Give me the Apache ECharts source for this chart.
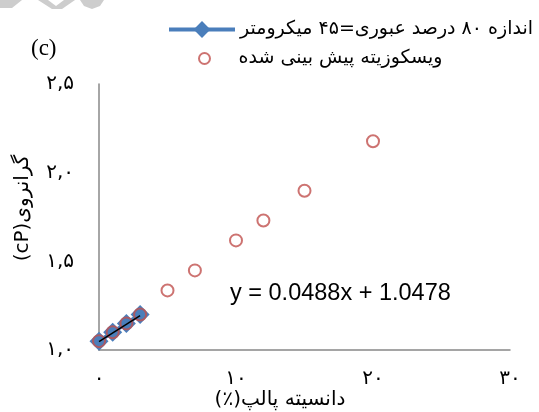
<!DOCTYPE html>
<html>
<head>
<meta charset="utf-8">
<script src="https://cdn.jsdelivr.net/npm/echarts@6/dist/echarts.min.js"></script>
<style>
html,body{margin:0;padding:0;background:#fff;}
#chart{width:539px;height:412px;}
</style>
</head>
<body>
<div id="chart"></div>
<script>
// ---- data ----
const seriesNames = ['اندازه ۸۰ درصد عبوری=۴۵ میکرومتر', 'ویسکوزیته پیش بینی شده'];
const measuredX = [0, 1, 2, 3];
const measuredY = [1.05, 1.10, 1.15, 1.20];
const predictedX = [0, 1, 2, 3, 5, 7, 10, 12, 15, 20];
const predictedY = [1.05, 1.10, 1.15, 1.20, 1.336, 1.449, 1.618, 1.730, 1.898, 2.177];
const trendSlope = 0.0488;
const trendIntercept = 1.0478;
const trendRange = [0, 3];
const xTicks = [0, 10, 20, 30];
const xTickLabels = ['۰', '۱۰', '۲۰', '۳۰'];
const yTicks = [1.0, 1.5, 2.0, 2.5];
const yTickLabels = ['۱,۰', '۱,۵', '۲,۰', '۲,۵'];
const xAxisName = '(٪)دانسیته پالپ';
const yAxisName = '(cP)گرانروی';
const panelLabel = '(c)';
const trendLabel = 'y = ' + trendSlope + 'x + ' + trendIntercept;

const faFont = "'DejaVu Sans', sans-serif";
const chart = echarts.init(document.getElementById('chart'), null, {renderer: 'canvas'});

const measured = measuredX.map((x, i) => [x, measuredY[i]]);
const predicted = predictedX.map((x, i) => [x, predictedY[i]]);
const trend = trendRange.map(x => [x, trendSlope * x + trendIntercept]);

function lookup(ticks, labels, v) {
  const i = ticks.findIndex(t => Math.abs(t - v) < 1e-9);
  return i >= 0 ? labels[i] : '';
}

const legendText = {fontFamily: faFont, fontSize: 19, color: '#000'};

chart.setOption({
  animation: false,
  backgroundColor: '#fff',
  grid: {left: 99, right: 29, top: 84, bottom: 62, containLabel: false, outerBoundsMode: 'none'},
  legend: [
    {
      orient: 'vertical',
      left: 167,
      top: 20,
      padding: 0,
      itemWidth: 66,
      itemHeight: 21,
      data: [seriesNames[0]],
      lineStyle: {width: 4},
      textStyle: legendText
    },
    {
      orient: 'vertical',
      left: 198,
      top: 49,
      padding: 0,
      itemWidth: 58,
      itemHeight: 11,
      data: [seriesNames[1]],
      itemStyle: {color: '#fff', borderColor: '#c0504d', borderWidth: 2},
      textStyle: legendText
    }
  ],
  xAxis: {
    type: 'value',
    min: 0, max: 30, interval: 10,
    axisLine: {show: true, onZero: false, lineStyle: {color: '#888', width: 1.5}},
    axisTick: {show: false},
    splitLine: {show: false},
    axisLabel: {margin: 19, fontFamily: faFont, fontSize: 20, color: '#000',
      formatter: v => lookup(xTicks, xTickLabels, v)}
  },
  yAxis: {
    type: 'value',
    min: 1.0, max: 2.5, interval: 0.5,
    name: yAxisName,
    nameLocation: 'middle',
    nameGap: 66,
    nameMoveOverlap: false,
    nameRotate: 90,
    nameTextStyle: {fontFamily: faFont, fontSize: 20, color: '#000', padding: [0, 0, 0, 18]},
    axisLine: {show: true, lineStyle: {color: '#888', width: 1.5}},
    axisTick: {show: false},
    splitLine: {show: false},
    axisLabel: {margin: 25, fontFamily: faFont, fontSize: 20, color: '#000',
      formatter: v => lookup(yTicks, yTickLabels, v)}
  },
  graphic: [
    {type: 'text', x: 280, y: 400, z: 1, style: {text: xAxisName, align: 'center', verticalAlign: 'middle', font: "20px 'DejaVu Sans', sans-serif", fill: '#000'}},
    {type: 'text', left: 31, top: 37, style: {text: panelLabel, font: "23px 'Liberation Serif', serif", fill: '#000'}},
    {type: 'text', left: 230, top: 282, style: {text: trendLabel, font: "23.5px 'Liberation Sans', sans-serif", fill: '#000'}},
    {type: 'polygon', shape: {points: [[0,0],[22,0],[12,8],[0,8]]}, style: {fill: '#cdcdcd'}},
    {type: 'polygon', shape: {points: [[38,0],[48,0],[56,6],[64,0],[75,0],[62,9],[52,9]]}, style: {fill: '#cdcdcd'}},
    {type: 'polygon', shape: {points: [[80,0],[104,0],[100,6],[92,9],[84,6]]}, style: {fill: '#cdcdcd'}}
  ],
  series: [
    {
      name: seriesNames[0],
      type: 'line',
      data: measured,
      symbol: 'diamond',
      symbolSize: 19,
      lineStyle: {color: '#4a7ebb', width: 4},
      itemStyle: {color: '#4a7ebb'},
      z: 2
    },
    {
      name: seriesNames[1],
      type: 'scatter',
      data: predicted,
      symbol: 'circle',
      symbolSize: 12,
      itemStyle: {color: 'rgba(255,255,255,0)', borderColor: '#c0504d', borderWidth: 2},
      z: 3
    },
    {
      name: 'trend',
      type: 'line',
      data: trend,
      symbol: 'none',
      lineStyle: {color: '#000', width: 1.5},
      z: 4,
      silent: true
    }
  ]
});
</script>
</body>
</html>
